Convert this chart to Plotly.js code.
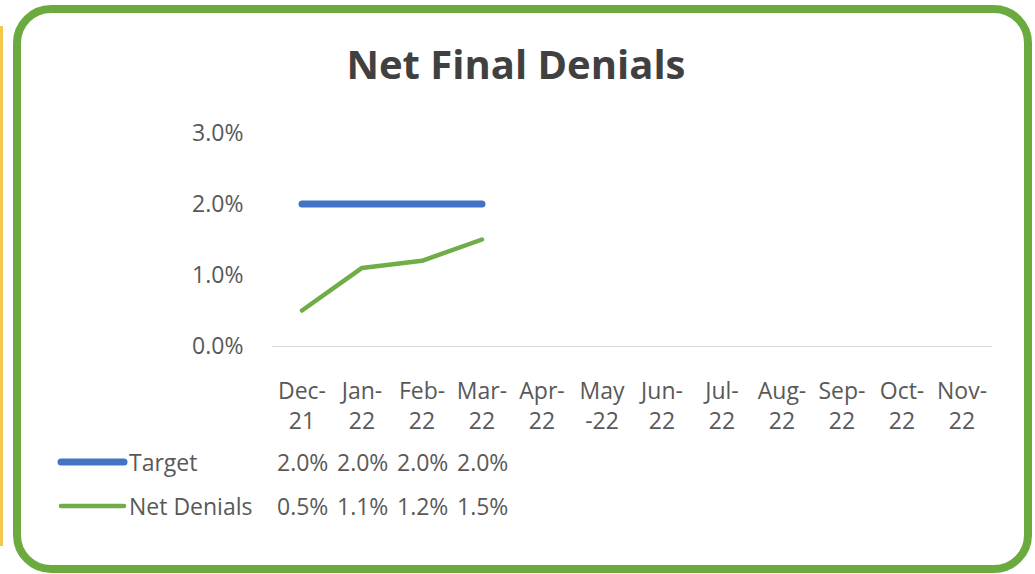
<!DOCTYPE html>
<html>
<head>
<meta charset="utf-8">
<script src="https://cdn.plot.ly/plotly-3.0.1.min.js"></script>
<style>
  html, body { margin: 0; padding: 0; background: #ffffff; }
  #wrap { position: relative; width: 1035px; height: 574px; overflow: hidden; }
  #chart { position: absolute; left: 0; top: 0; width: 1035px; height: 574px; }
  #chart path.js-line { stroke-linecap: round !important; stroke-linejoin: round !important; }
  #chart .shapelayer path { stroke-linecap: round !important; }
  #frame { position: absolute; left: 13px; top: 5px; width: 1003px; height: 552px;
           border: 8px solid #6BAA3E; border-radius: 38px; pointer-events: none; }
  #edge { position: absolute; left: 0px; top: 26px; width: 3px; height: 520px;
          background: #F2C94C; pointer-events: none; }
</style>
</head>
<body>
<div id="wrap">
  <div id="chart"></div>
  <div id="edge"></div>
  <div id="frame"></div>
</div>
<script>
// ---- data ----
const months = ["Dec-<br>21","Jan-<br>22","Feb-<br>22","Mar-<br>22","Apr-<br>22","May<br>-22",
                "Jun-<br>22","Jul-<br>22","Aug-<br>22","Sep-<br>22","Oct-<br>22","Nov-<br>22"];
const target = [2.0, 2.0, 2.0, 2.0, null, null, null, null, null, null, null, null];
const netDenials = [0.5, 1.1, 1.2, 1.5, null, null, null, null, null, null, null, null];
const seriesNames = ["Target", "Net Denials"];
const yTicks = [0, 1, 2, 3];

const blue = "#4472C4";
const green = "#70AD47";
const textCol = "#595959";
const FONT = "Open Sans, Noto Sans, sans-serif";

// pixel helpers for the table area (plot area: x 272..992, y 133..346)
const L = 272, R = 43, T = 133, B = 228, W = 1035 - L - R, H = 574 - T - B;
const px = x => (x - L) / W;
const py = y => (574 - B - y) / H;

const traces = [
  { x: months, y: target, name: seriesNames[0], type: "scatter", mode: "lines",
    line: { color: blue, width: 7 }, hoverinfo: "skip" },
  { x: months, y: netDenials, name: seriesNames[1], type: "scatter", mode: "lines",
    line: { color: green, width: 4.5 }, hoverinfo: "skip" }
];

const annotations = [];
const shapes = [];
const rows = [
  { name: seriesNames[0], vals: target, color: blue, width: 7, y: 462 },
  { name: seriesNames[1], vals: netDenials, color: green, width: 4.5, y: 506 }
];
rows.forEach(r => {
  shapes.push({ type: "line", xref: "paper", yref: "paper",
    x0: px(61), x1: px(124), y0: py(r.y), y1: py(r.y),
    line: { color: r.color, width: r.width } });
  annotations.push({ xref: "paper", yref: "paper", x: px(127), y: py(r.y),
    xanchor: "left", yanchor: "middle", showarrow: false, text: r.name,
    font: { family: FONT, size: 23, color: textCol } });
  r.vals.forEach((v, i) => {
    if (v === null) return;
    annotations.push({ xref: "x", yref: "paper", x: months[i], y: py(r.y),
      xanchor: "center", yanchor: "middle", showarrow: false,
      text: v.toFixed(1) + "%", font: { family: FONT, size: 23, color: textCol } });
  });
});

const layout = {
  width: 1035, height: 574,
  margin: { l: L, r: R, t: T, b: B, pad: 0 },
  paper_bgcolor: "#ffffff", plot_bgcolor: "#ffffff",
  showlegend: false,
  title: { text: "<b>Net Final Denials</b>", x: 0.4985, xanchor: "center",
           y: 1 - 65 / 574, yanchor: "middle",
           font: { family: FONT, size: 40, color: "#404040" } },
  xaxis: { type: "category", range: [-0.5, 11.5], showgrid: false, zeroline: false,
           showline: true, linecolor: "#D9D9D9", linewidth: 1,
           ticks: "outside", ticklen: 24, tickcolor: "rgba(0,0,0,0)",
           tickfont: { family: FONT, size: 23, color: textCol }, tickangle: 0 },
  yaxis: { range: [0, 3], tickvals: yTicks, ticktext: yTicks.map(v => v.toFixed(1) + "%"),
           showgrid: false, zeroline: false, showline: false,
           ticks: "outside", ticklen: 23, tickcolor: "rgba(0,0,0,0)",
           tickfont: { family: FONT, size: 23, color: textCol } },
  annotations: annotations,
  shapes: shapes
};

Plotly.newPlot("chart", traces, layout, { displayModeBar: false, staticPlot: true });
</script>
</body>
</html>
